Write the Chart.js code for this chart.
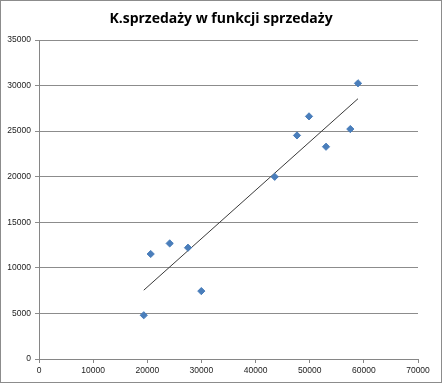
<!DOCTYPE html>
<html>
<head>
<meta charset="utf-8">
<script src="https://cdn.jsdelivr.net/npm/chart.js@4"></script>
<style>
  html, body { margin: 0; padding: 0; background: #fff; }
  #wrap { position: relative; width: 442px; height: 383px; }
</style>
</head>
<body>
<div id="wrap"><canvas id="c" width="442" height="383"></canvas></div>
<script>
const titleText = 'K.sprzedaży w funkcji sprzedaży';
const salesX = [19350, 20630, 24140, 27520, 29980, 43530, 47650, 49870, 53010, 57500, 58920];
const costY  = [4800, 11520, 12680, 12210, 7450, 19990, 24530, 26620, 23290, 25230, 30250];
const trendX = [19350, 58920];
const trendY = [7550, 28560];
const xTicks = [0, 10000, 20000, 30000, 40000, 50000, 60000, 70000];
const yTicks = [0, 5000, 10000, 15000, 20000, 25000, 30000, 35000];

const points = salesX.map((x, i) => ({ x: x, y: costY[i] }));
const trend = trendX.map((x, i) => ({ x: x, y: trendY[i] }));

const frame = {
  id: 'frame',
  beforeDraw(chart) {
    const ctx = chart.ctx;
    ctx.save();
    ctx.fillStyle = '#fff';
    ctx.fillRect(0, 0, chart.width, chart.height);
    ctx.restore();
  },
  afterDraw(chart) {
    const ctx = chart.ctx;
    ctx.save();
    ctx.fillStyle = '#000';
    ctx.font = 'bold 14px "Open Sans", "Liberation Sans", sans-serif';
    ctx.textAlign = 'center';
    ctx.textBaseline = 'middle';
    ctx.fillText(titleText, chart.width / 2, 19);
    ctx.strokeStyle = '#8c8c8c';
    ctx.lineWidth = 1;
    ctx.strokeRect(0.5, 0.5, chart.width - 1, chart.height - 1);
    ctx.restore();
  }
};

const tickFont = { family: 'Liberation Sans, Arial, sans-serif', size: 8.5 };

new Chart(document.getElementById('c'), {
  type: 'scatter',
  data: {
    datasets: [
      {
        label: 'trend',
        data: trend,
        type: 'line',
        showLine: true,
        borderColor: '#3a3a3a',
        borderWidth: 1,
        pointRadius: 0,
        fill: false,
        order: 2
      },
      {
        label: 'K.sprzedaży',
        data: points,
        pointStyle: 'rectRot',
        pointRadius: 3.6,
        backgroundColor: '#4a7ebb',
        borderColor: '#4a7ebb',
        borderWidth: 1,
        order: 1
      }
    ]
  },
  plugins: [frame],
  options: {
    responsive: false,
    animation: false,
    devicePixelRatio: 1,
    layout: { padding: { left: 0, right: 24, top: 40, bottom: 0 } },
    plugins: {
      legend: { display: false },
      tooltip: { enabled: false },
      title: { display: false }
    },
    scales: {
      x: {
        type: 'linear',
        min: 0,
        max: 70000,
        afterBuildTicks(scale) { scale.ticks = xTicks.map(v => ({ value: v })); },
        afterFit(scale) { scale.height = 24; },
        grid: {
          drawOnChartArea: false,
          drawTicks: true,
          tickLength: 4,
          color: '#868686'
        },
        border: { color: '#868686', width: 1 },
        ticks: {
          color: '#222',
          font: tickFont,
          padding: 3,
          maxRotation: 0,
          autoSkip: false,
          callback: v => String(v)
        }
      },
      y: {
        type: 'linear',
        min: 0,
        max: 35000,
        afterBuildTicks(scale) { scale.ticks = yTicks.map(v => ({ value: v })); },
        afterFit(scale) { scale.width = 39; },
        grid: {
          drawOnChartArea: true,
          drawTicks: true,
          tickLength: 4,
          color: '#8c8c8c'
        },
        border: { color: '#868686', width: 1 },
        ticks: {
          color: '#222',
          font: tickFont,
          padding: 4,
          autoSkip: false,
          callback: v => String(v)
        }
      }
    }
  }
});
</script>
</body>
</html>
